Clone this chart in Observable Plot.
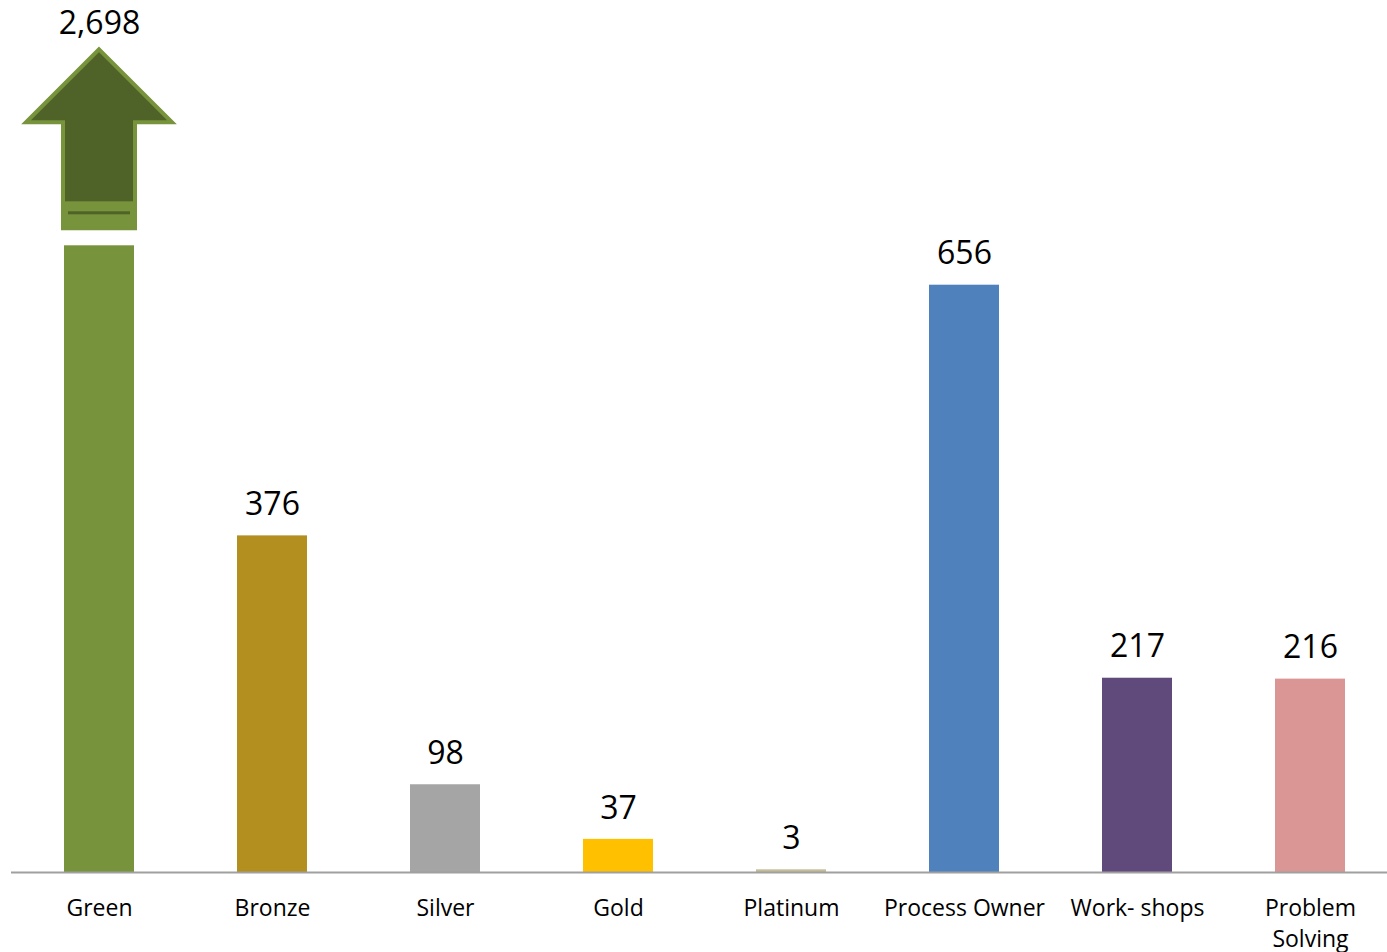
<!DOCTYPE html>
<html>
<head>
<meta charset="utf-8">
<script src="https://cdn.jsdelivr.net/npm/d3@7"></script>
<script src="https://cdn.jsdelivr.net/npm/@observablehq/plot@0.6"></script>
<style>
  html, body { margin: 0; padding: 0; background: #fff; overflow: hidden; }
  #chart svg { display: block; }
</style>
</head>
<body>
<div id="chart"></div>
<script>
// ---- data ----
const categories = ["Green", "Bronze", "Silver", "Gold", "Platinum", "Process Owner", "Work- shops", "Problem Solving"];
const tickLabels = ["Green", "Bronze", "Silver", "Gold", "Platinum", "Process Owner", "Work- shops", "Problem\nSolving"];
const values = [2698, 376, 98, 37, 3, 656, 217, 216];
const colors = ["#77933C", "#B38F1F", "#A5A5A5", "#FFC000", "#C4BD97", "#4F81BD", "#604A7B", "#D99694"];
const breakValue = 700; // bars above this are drawn truncated with an arrow

const data = categories.map((c, i) => ({
  category: c,
  label: tickLabels[i],
  value: values[i],
  shown: Math.min(values[i], breakValue),
  truncated: values[i] > breakValue,
  color: colors[i]
}));

const FONT = "'Open Sans', 'Noto Sans', sans-serif";

// custom mark: up arrow above truncated bars
function arrowMark(index, scales, values, dimensions, context) {
  const g = d3.create("svg:g");
  const x = scales.x, y = scales.y;
  const bw = x.bandwidth ? x.bandwidth() : 70;
  for (const d of data.filter(d => d.truncated)) {
    const cx = x(d.category) + bw / 2;
    const top = y(d.shown);
    const bottom = top - 17, headBase = top - 123, tip = top - 196;
    const sh = 36, hh = 73;
    const pts = [[cx, tip], [cx + hh, headBase], [cx + sh, headBase], [cx + sh, bottom],
                 [cx - sh, bottom], [cx - sh, headBase], [cx - hh, headBase]];
    g.append("polygon")
      .attr("points", pts.map(p => p.join(",")).join(" "))
      .attr("fill", "#4F6228")
      .attr("stroke", "#77933C")
      .attr("stroke-width", 4)
      .attr("stroke-linejoin", "miter");
    g.append("rect")
      .attr("x", cx - sh).attr("y", bottom - 27)
      .attr("width", 2 * sh).attr("height", 27)
      .attr("fill", "#77933C");
    g.append("rect")
      .attr("x", cx - sh + 5).attr("y", bottom - 17)
      .attr("width", 2 * sh - 10).attr("height", 3)
      .attr("fill", "#4F6228");
  }
  return g.node();
}

const chart = Plot.plot({
  width: 1387,
  height: 952,
  marginTop: 0,
  marginLeft: 11,
  marginRight: -11,
  marginBottom: 80,
  style: { fontFamily: FONT, background: "#fff", color: "#000", overflow: "hidden" },
  x: { domain: categories, paddingInner: 0.595, paddingOuter: 0.2975, axis: null },
  y: { domain: [0, 974], axis: null },
  marks: [
    Plot.barY(data, { x: "category", y: "shown", fill: "color" }),
    Plot.ruleY([0], { stroke: "#A0A0A0", strokeWidth: 2 }),
    Plot.text(data.filter(d => !d.truncated), {
      x: "category", y: "shown", text: d => d3.format(",")(d.value),
      dy: -31, fontSize: 32, fill: "#000"
    }),
    Plot.text(data.filter(d => d.truncated), {
      x: "category", y: "shown", text: d => d3.format(",")(d.value),
      dy: -222, fontSize: 32, fill: "#000"
    }),
    arrowMark,
    Plot.text(data, {
      x: "category", y: 0, text: "label", lineAnchor: "top",
      dy: 21, fontSize: 23, lineHeight: 1.35, fill: "#000"
    })
  ]
});

document.getElementById("chart").appendChild(chart);
</script>
</body>
</html>
